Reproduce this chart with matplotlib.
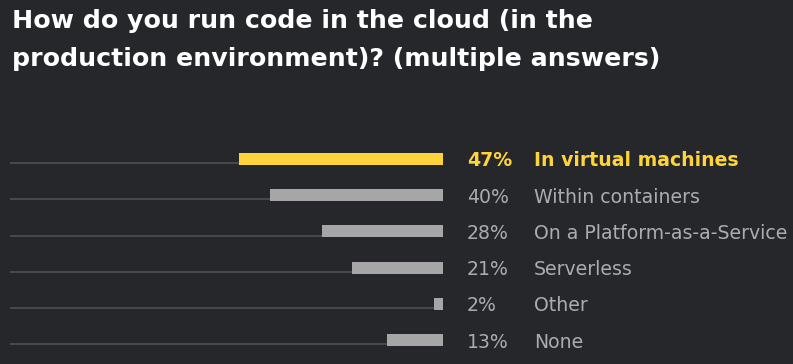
import matplotlib
matplotlib.use("Agg")
import matplotlib.pyplot as plt

# data
answers = ["In virtual machines", "Within containers", "On a Platform-as-a-Service",
           "Serverless", "Other", "None"]
shares = [47, 40, 28, 21, 2, 13]
highlight = "In virtual machines"

BG = "#26272b"
YELLOW = "#ffd43b"
GREY_BAR = "#a6a6a6"
GREY_TXT = "#a9adb1"
TRACK = "#4b4c50"

W, H = 793, 364
fig = plt.figure(figsize=(W / 100, H / 100), dpi=100, facecolor=BG)

fig.text(12 / W, 1 - 9 / H,
         "How do you run code in the cloud (in the\nproduction environment)? (multiple answers)",
         color="white", fontsize=18.2, fontweight="bold", family="DejaVu Sans",
         va="top", ha="left", linespacing=1.72)

row = 36.2
top = 159 - row / 2
ax = fig.add_axes([10 / W, 1 - (top + row * 6) / H, 433 / W, row * 6 / H])
ax.set_facecolor(BG)
ax.set_xlim(100, 0)
ax.set_ylim(len(answers) - 0.5, -0.5)
ax.axis("off")

bar_h = 12 / row
for i, (name, v) in enumerate(zip(answers, shares)):
    hot = name == highlight
    ax.hlines(i + bar_h / 2 - 0.05, v, 100, color=TRACK, lw=1.3)
    ax.barh(i, v, height=bar_h, color=YELLOW if hot else GREY_BAR, left=0)
    col = YELLOW if hot else GREY_TXT
    wt = "bold" if hot else "normal"
    ax.annotate(f"{v}%", (0, i), xytext=(24, -2), textcoords="offset pixels",
                color=col, fontsize=13.6, fontweight=wt, family="DejaVu Sans",
                va="center", ha="left", annotation_clip=False)
    ax.annotate(name, (0, i), xytext=(91, -2), textcoords="offset pixels",
                color=col, fontsize=13.6, fontweight=wt, family="DejaVu Sans",
                va="center", ha="left", annotation_clip=False)

fig.savefig("out.png", dpi=100, facecolor=BG)
